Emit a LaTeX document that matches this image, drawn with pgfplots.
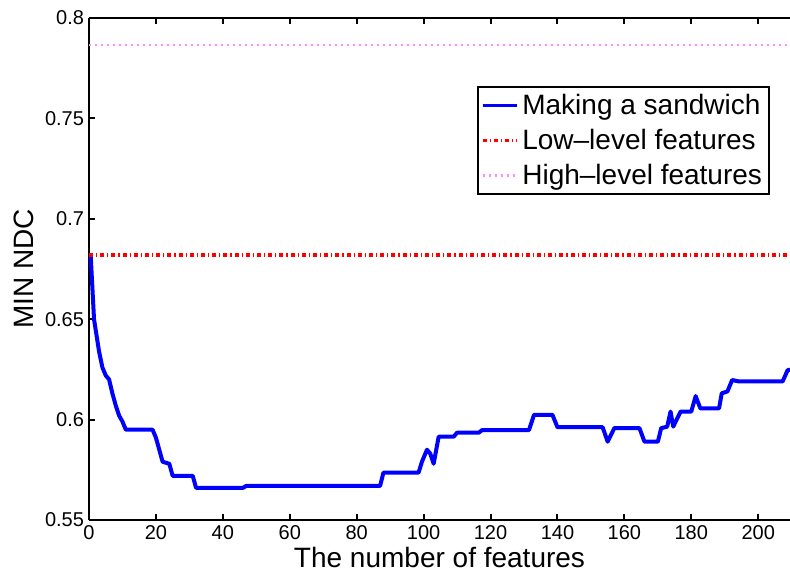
\documentclass[border=0pt]{standalone}
\usepackage{fontspec}
\setmainfont{Liberation Sans}
\usepackage{pgfplots}
\pgfplotsset{compat=1.18}
\definecolor{mypink}{rgb}{1,0.55,1}
\begin{document}
\begin{tikzpicture}
\begin{axis}[
  scale only axis, width=350.5pt, height=251pt,
  xmin=0, xmax=209.5, ymin=0.55, ymax=0.8,
  xtick={0,20,...,200},
  ytick={0.55,0.6,0.65,0.7,0.75,0.8},
  yticklabels={0.55,0.6,0.65,0.7,0.75,0.8},
  axis x line*=box, axis y line*=left,
  tick align=inside, major tick length=3pt,
  axis line style={line width=1.3pt, black},
  tick style={line width=1pt, black},
  /pgf/number format/assume math mode=true,
  tick label style={font=\fontsize{10}{12}\selectfont},
  xticklabel style={yshift=1pt},
  yticklabel style={xshift=1pt},
  label style={font=\fontsize{14}{16}\selectfont},
  xlabel={The number of features},
  ylabel={MIN NDC},
  xlabel style={yshift=0.3pt, inner sep=1pt},
  ylabel style={yshift=-1pt},
  legend cell align=left,
  legend style={at={(0.9715,0.8645)}, anchor=north east, draw=black, line width=1pt,
    font=\fontsize{14}{16}\selectfont, inner sep=1.5pt, row sep=1.8pt,
    nodes={inner sep=2pt}},
  legend image post style={line width=1.5pt},
]
\addplot[blue, line width=2pt, line join=round] coordinates {
(0.5,0.682) (1.5,0.650) (3,0.634) (4,0.626) (5,0.622) (6,0.620) (7,0.613) (8,0.607) (9,0.602) (10,0.599) (11,0.595)
(19,0.595) (20,0.591) (21,0.585) (22,0.579) (24,0.578) (25,0.572) (31,0.572) (32,0.566) (46,0.566) (47,0.567)
(87,0.567) (88,0.5736) (98.5,0.5736) (99.5,0.579) (101,0.585) (102,0.583) (103,0.578) (104.5,0.5915) (109,0.5915)
(110,0.5935) (116.5,0.5935) (117.5,0.5948) (131.5,0.5948) (133,0.6024) (138.5,0.6024) (140,0.5962) (153.5,0.5962)
(155,0.589) (157,0.5958) (164.5,0.5958) (166,0.589) (170,0.589) (171,0.5957) (172.8,0.5965) (173.8,0.604)
(174.6,0.5965) (176.8,0.604) (180,0.604) (181.3,0.6117) (182.7,0.6056) (188.3,0.6056) (189.1,0.6131) (190.8,0.614)
(192.2,0.6197) (194.3,0.619) (207.3,0.619) (208.8,0.6247) (209.5,0.6247)
};
\addlegendentry{Making a sandwich}
\addplot[red, line width=2pt, dash pattern=on 2pt off 1.5pt on 0.6pt off 1.5pt] coordinates {(0,0.682) (209.5,0.682)};
\addlegendentry{Low--level features}
\addplot[mypink, line width=0.8pt, dash pattern=on 1pt off 2pt] coordinates {(0,0.7866) (209.5,0.7866)};
\addlegendentry{High--level features}
\end{axis}
\pgfresetboundingbox
\path ([xshift=-44.5pt,yshift=-25.5pt]current axis.south west) rectangle ([yshift=9pt]current axis.north east);
\end{tikzpicture}
\end{document}
